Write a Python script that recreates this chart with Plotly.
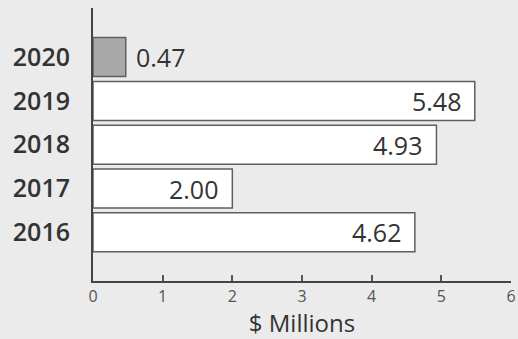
import plotly.graph_objects as go

# Annual amounts, $ millions
years = ["2016", "2017", "2018", "2019", "2020"]
values = [4.62, 2.00, 4.93, 5.48, 0.47]
fill_colors = ["#ffffff", "#ffffff", "#ffffff", "#ffffff", "#a9a9a9"]
x_ticks = [0, 1, 2, 3, 4, 5, 6]

BG = "#ebebeb"
TEXT = "#333333"
FONT = "Open Sans"

fig = go.Figure()
fig.add_trace(go.Bar(
    x=values,
    y=years,
    orientation="h",
    width=0.89,
    marker=dict(color=fill_colors, line=dict(color="#5f5f5f", width=1.5)),
    hoverinfo="skip",
))

# Value labels: inside the long bars (right aligned), outside the short one.
# Year names look numeric, so annotations address rows by category index.
annotations = []
for i, v in enumerate(values):
    inside = v > 1
    annotations.append(dict(
        x=v, y=i, xref="x", yref="y",
        text=f"{v:.2f}",
        showarrow=False,
        xanchor="right" if inside else "left",
        xshift=-12 if inside else 8,
        font=dict(family=FONT, size=25, color=TEXT, weight=500),
    ))

fig.update_layout(
    width=518, height=339,
    margin=dict(l=92.5, r=7.3, t=8, b=58.3),
    paper_bgcolor=BG, plot_bgcolor=BG,
    showlegend=False,
    annotations=annotations,
    xaxis=dict(
        range=[0, 6],
        tickvals=x_ticks,
        automargin=False,
        ticks="inside", ticklen=6, tickwidth=1.5, tickcolor="#555555",
        tickfont=dict(family=FONT, size=16, color="#555555"),
        showgrid=False, zeroline=False,
        showline=True, linecolor="#444444", linewidth=2,
        title=dict(text="$ Millions", font=dict(family=FONT, size=24, color=TEXT), standoff=5),
        fixedrange=True,
    ),
    yaxis=dict(
        type="category",
        categoryorder="array", categoryarray=years,
        range=[-1.11, 5.12],
        automargin=False,
        ticks="", ticklabelstandoff=16,
        tickfont=dict(family=FONT, size=25, color=TEXT, weight=600),
        showgrid=False, zeroline=False,
        showline=True, linecolor="#444444", linewidth=2,
        fixedrange=True,
    ),
)

fig.write_html("out.html")
